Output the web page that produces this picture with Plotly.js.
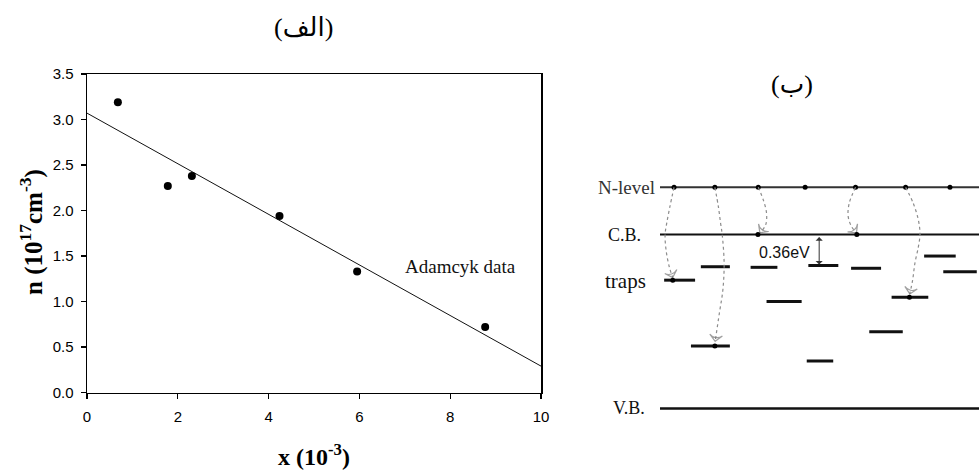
<!DOCTYPE html>
<html>
<head>
<meta charset="utf-8">
<script src="https://cdn.plot.ly/plotly-3.0.1.min.js"></script>
<style>
  html, body { margin: 0; padding: 0; background: #fff; }
  #chart { width: 979px; height: 470px; }
</style>
</head>
<body>
<div id="chart"></div>
<script>
// ---- panel (a): carrier concentration n versus composition x ----
const xComp = [0.68, 1.78, 2.31, 4.24, 5.95, 8.77];
const nConc = [3.19, 2.27, 2.38, 1.94, 1.33, 0.72];
const fitX = [0, 10];
const fitN = [3.07, 0.29];
const xTickVals = [0, 2, 4, 6, 8, 10];
const yTickVals = [0, 0.5, 1, 1.5, 2, 2.5, 3, 3.5];
const seriesLabel = 'Adamcyk data';

// ---- panel (b): band diagram, energies in eV relative to the C.B. edge ----
const levelNames = ['N-level', 'C.B.', 'V.B.'];
const levelE = [0.548, 0, -2.02];
const nDotPos = [4.4, 17.2, 30.8, 45.5, 61.3, 77.0, 90.9];
const trapStart = [1.3, 12.8, 28.4, 46.5, 59.9, 82.8, 88.8, 33.4, 72.6, 65.6, 9.7, 46.0];
const trapEnd   = [11.0, 21.9, 36.8, 55.9, 69.3, 92.7, 99.3, 44.4, 84.1, 76.1, 21.9, 54.3];
const trapE     = [-0.53, -0.374, -0.381, -0.36, -0.392, -0.25, -0.433, -0.779, -0.729, -1.129, -1.295, -1.469];
const gapLabel = '0.36eV';
const gapE = -0.36;

// electron hops from the N-level down to the C.B. or into traps
const hopPathX = [
  [4.4, 3.1, 2.1, 1.6, 1.9, 2.9, 4.0],
  [17.2, 18.3, 19.0, 19.5, 20.1, 19.7, 18.6, 17.3],
  [30.8, 32.4, 33.4, 33.1, 31.3],
  [61.3, 59.3, 59.0, 60.1, 61.6],
  [77.0, 79.4, 81.0, 81.5, 81.0, 79.9, 79.2, 78.3]
];
const hopPathE = [
  [0.548, 0.323, 0.13, 0.0, -0.18, -0.374, -0.50],
  [0.548, 0.323, 0.13, 0.0, -0.335, -0.645, -0.915, -1.24],
  [0.548, 0.40, 0.246, 0.11, 0.02],
  [0.548, 0.362, 0.207, 0.09, 0.02],
  [0.548, 0.362, 0.168, 0.0, -0.14, -0.335, -0.528, -0.69]
];
const landX = [4.0, 17.2, 30.7, 61.7, 78.2];
const landE = [-0.53, -1.295, 0, 0, -0.729];

const serif = 'Liberation Serif, Times New Roman, DejaVu Sans, serif';
const sans = 'Liberation Sans, Arial, sans-serif';

const traces = [];

// (a) fitted line and measured points
traces.push({
  x: fitX, y: fitN, type: 'scatter', mode: 'lines',
  line: { color: '#111', width: 1 }, xaxis: 'x', yaxis: 'y', hoverinfo: 'skip'
});
traces.push({
  x: xComp, y: nConc, type: 'scatter', mode: 'markers', name: seriesLabel,
  marker: { color: '#000', size: 8 }, xaxis: 'x', yaxis: 'y', cliponaxis: false
});

// (b) band levels
levelE.forEach(function (e, i) {
  traces.push({
    x: [0, 100], y: [e, e], type: 'scatter', mode: 'lines',
    line: { color: i === 0 ? '#333' : '#111', width: i === 2 ? 2.5 : 2 },
    xaxis: 'x2', yaxis: 'y2', hoverinfo: 'skip'
  });
});
traces.push({
  x: nDotPos, y: nDotPos.map(function () { return levelE[0]; }),
  type: 'scatter', mode: 'markers', marker: { color: '#000', size: 5 },
  xaxis: 'x2', yaxis: 'y2', cliponaxis: false
});

// trap levels as one broken line
const tx = [], ty = [];
trapStart.forEach(function (s, i) {
  tx.push(s, trapEnd[i], null);
  ty.push(trapE[i], trapE[i], null);
});
traces.push({
  x: tx, y: ty, type: 'scatter', mode: 'lines',
  line: { color: '#111', width: 3 }, xaxis: 'x2', yaxis: 'y2', hoverinfo: 'skip'
});

// hopping paths with arrowheads at their ends
hopPathX.forEach(function (px, k) {
  const n = px.length;
  traces.push({
    x: px, y: hopPathE[k], type: 'scatter', mode: 'lines+markers',
    line: { color: '#8c8c8c', width: 1.2, dash: 'dot', shape: 'spline', smoothing: 1 },
    marker: {
      symbol: 'arrow-wide-open', angleref: 'previous',
      size: px.map(function (_, j) { return j === n - 1 ? 9 : 0; }),
      color: '#777', line: { color: '#777', width: 1.2 }
    },
    xaxis: 'x2', yaxis: 'y2', cliponaxis: false, hoverinfo: 'skip'
  });
});
traces.push({
  x: landX, y: landE, type: 'scatter', mode: 'markers',
  marker: { color: '#000', size: 5 }, xaxis: 'x2', yaxis: 'y2', cliponaxis: false
});

const annotations = [
  { text: '(الف)', xref: 'paper', yref: 'paper', x: 303 / 979, y: 1 - 28 / 470,
    xanchor: 'center', yanchor: 'middle',
    showarrow: false, font: { family: serif, size: 26, color: '#000' } },
  { text: '(ب)', xref: 'paper', yref: 'paper', x: 792 / 979, y: 1 - 85 / 470,
    xanchor: 'center', yanchor: 'middle',
    showarrow: false, font: { family: serif, size: 26, color: '#000' } },
  { text: '<b>n (10<sup>17</sup>cm<sup>-3</sup>)</b>', xref: 'paper', yref: 'paper',
    x: 31 / 979, y: 1 - 232 / 470, textangle: -90, showarrow: false,
    xanchor: 'center', yanchor: 'middle',
    font: { family: serif, size: 25, color: '#000' } },
  { text: '<b>x (10<sup>-3</sup>)</b>', xref: 'paper', yref: 'paper',
    x: 314 / 979, y: 1 - 455 / 470, showarrow: false,
    xanchor: 'center', yanchor: 'middle',
    font: { family: serif, size: 24, color: '#000' } },
  { text: seriesLabel, xref: 'x', yref: 'y', x: 6.97, y: 1.38, xanchor: 'left',
    showarrow: false, font: { family: serif, size: 19, color: '#111' } },
  { text: levelNames[0], xref: 'x2', yref: 'y2', x: -1, y: levelE[0], xanchor: 'right',
    showarrow: false, font: { family: serif, size: 19, color: '#333' } },
  { text: levelNames[1], xref: 'x2', yref: 'y2', x: -5.2, y: levelE[1], xanchor: 'right',
    showarrow: false, font: { family: serif, size: 18, color: '#111' } },
  { text: levelNames[2], xref: 'x2', yref: 'y2', x: -4.0, y: levelE[2], xanchor: 'right',
    showarrow: false, font: { family: serif, size: 18, color: '#111' } },
  { text: 'traps', xref: 'x2', yref: 'y2', x: -3.8, y: -0.54, xanchor: 'right',
    showarrow: false, font: { family: serif, size: 21, color: '#111' } },
  { text: gapLabel, xref: 'x2', yref: 'y2', x: 38.9, y: -0.21, xanchor: 'center',
    showarrow: false, font: { family: sans, size: 16, color: '#111' } },
  { text: '', xref: 'x2', yref: 'y2', axref: 'x2', ayref: 'y2',
    x: 49.9, y: gapE, ax: 49.9, ay: levelE[1],
    showarrow: true, arrowside: 'end+start', arrowhead: 1, arrowsize: 1.2,
    arrowwidth: 1, arrowcolor: '#333', standoff: 1, startstandoff: 1 }
];

const layout = {
  width: 979, height: 470,
  margin: { l: 0, r: 0, t: 0, b: 0 },
  paper_bgcolor: '#fff', plot_bgcolor: '#fff',
  showlegend: false,
  xaxis: {
    domain: [87 / 979, 541 / 979], range: [0, 10], tickvals: xTickVals,
    ticks: 'outside', ticklen: 5, tickwidth: 1.2, tickcolor: '#000',
    ticklabelstandoff: 5,
    showline: true, linecolor: '#000', linewidth: 1.5, mirror: true,
    showgrid: false, zeroline: false,
    tickfont: { family: sans, size: 15, color: '#000' }, anchor: 'y'
  },
  yaxis: {
    domain: [1 - 392.5 / 470, 1 - 74 / 470], range: [0, 3.5], tickvals: yTickVals,
    tickformat: '.1f',
    ticks: 'outside', ticklen: 5, tickwidth: 1.2, tickcolor: '#000',
    ticklabelstandoff: 4,
    showline: true, linecolor: '#000', linewidth: 1.5, mirror: true,
    showgrid: false, zeroline: false,
    tickfont: { family: sans, size: 15, color: '#000' }, anchor: 'x'
  },
  xaxis2: {
    domain: [560 / 979, 1], range: [-31.35, 100], visible: false, anchor: 'y2'
  },
  yaxis2: {
    domain: [0, 1], range: [-2.735, 2.724], visible: false, anchor: 'x2'
  },
  annotations: annotations
};

Plotly.newPlot('chart', traces, layout, { displayModeBar: false, staticPlot: true });
</script>
</body>
</html>
